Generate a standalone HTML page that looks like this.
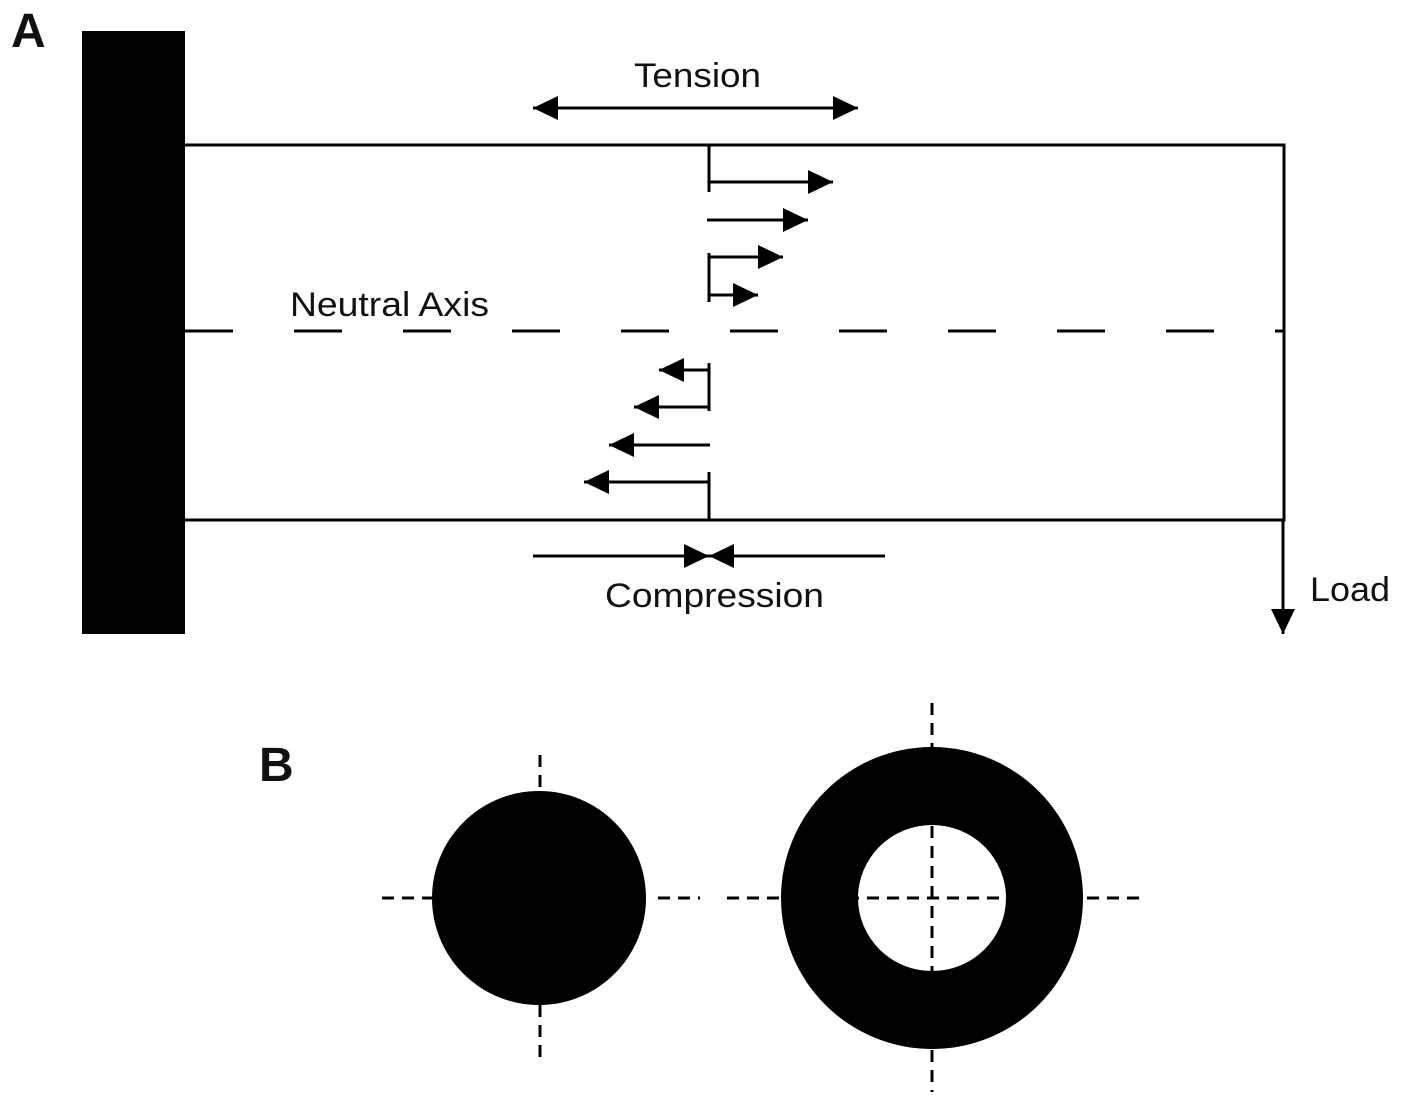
<!DOCTYPE html>
<html><head><style>body{margin:0;background:#fff}svg{display:block}</style></head>
<body>
<svg width="1401" height="1103" viewBox="0 0 1401 1103" xmlns="http://www.w3.org/2000/svg" font-family="Liberation Sans, Arial, sans-serif">
<defs>
<marker id="ah" markerWidth="25" markerHeight="24" refX="25" refY="12" orient="auto" markerUnits="userSpaceOnUse"><path d="M0,0 L25,12 L0,24 Z" fill="#000"/></marker>
</defs>
<text x="11" y="47" font-size="48" font-weight="bold" fill="#111">A</text>
<text x="259" y="781" font-size="48" font-weight="bold" fill="#111">B</text>
<rect x="82" y="31" width="103" height="603" fill="#000"/>
<g stroke="#000" stroke-width="3" fill="none">
<path d="M185,145 H1284 V520 H185"/>
<line x1="185" y1="331" x2="1284" y2="331" stroke-dasharray="48 61"/>
<line x1="709" y1="145" x2="709" y2="192"/>
<line x1="709" y1="253" x2="709" y2="302"/>
<line x1="709" y1="363" x2="709" y2="411"/>
<line x1="709" y1="472" x2="709" y2="520"/>
<line x1="709" y1="182" x2="833" y2="182" marker-end="url(#ah)"/>
<line x1="707" y1="220" x2="808" y2="220" marker-end="url(#ah)"/>
<line x1="709" y1="257" x2="783" y2="257" marker-end="url(#ah)"/>
<line x1="709" y1="295" x2="758" y2="295" marker-end="url(#ah)"/>
<line x1="709" y1="370" x2="659" y2="370" marker-end="url(#ah)"/>
<line x1="709" y1="407" x2="634" y2="407" marker-end="url(#ah)"/>
<line x1="710" y1="445" x2="609" y2="445" marker-end="url(#ah)"/>
<line x1="709" y1="482" x2="584" y2="482" marker-end="url(#ah)"/>
<line x1="695" y1="108" x2="858" y2="108" marker-end="url(#ah)"/>
<line x1="700" y1="108" x2="533" y2="108" marker-end="url(#ah)"/>
<line x1="533" y1="556" x2="709" y2="556" marker-end="url(#ah)"/>
<line x1="885" y1="556" x2="709" y2="556" marker-end="url(#ah)"/>
<line x1="1283" y1="520" x2="1283" y2="634" marker-end="url(#ah)"/>
</g>
<g font-size="34" fill="#111">
<text x="634" y="87" textLength="127" lengthAdjust="spacingAndGlyphs">Tension</text>
<text x="290" y="316" textLength="199" lengthAdjust="spacingAndGlyphs">Neutral Axis</text>
<text x="605" y="607" textLength="219" lengthAdjust="spacingAndGlyphs">Compression</text>
<text x="1310" y="601" textLength="80" lengthAdjust="spacingAndGlyphs">Load</text>
</g>
<circle cx="539" cy="898" r="107" fill="#000"/>
<circle cx="932" cy="898" r="151" fill="#000"/>
<ellipse cx="932" cy="898" rx="74" ry="73" fill="#fff"/>
<g stroke="#000" stroke-width="3" stroke-dasharray="12 8" fill="none">
<line x1="382" y1="898" x2="432" y2="898"/>
<line x1="658" y1="898" x2="700" y2="898"/>
<line x1="727" y1="898" x2="1140" y2="898"/>
<line x1="540" y1="755" x2="540" y2="793"/>
<line x1="540" y1="1005" x2="540" y2="1058"/>
<line x1="932" y1="703" x2="932" y2="747"/>
<line x1="932" y1="826" x2="932" y2="971"/>
<line x1="932" y1="1050" x2="932" y2="1092"/>
</g>
</svg>
</body></html>
